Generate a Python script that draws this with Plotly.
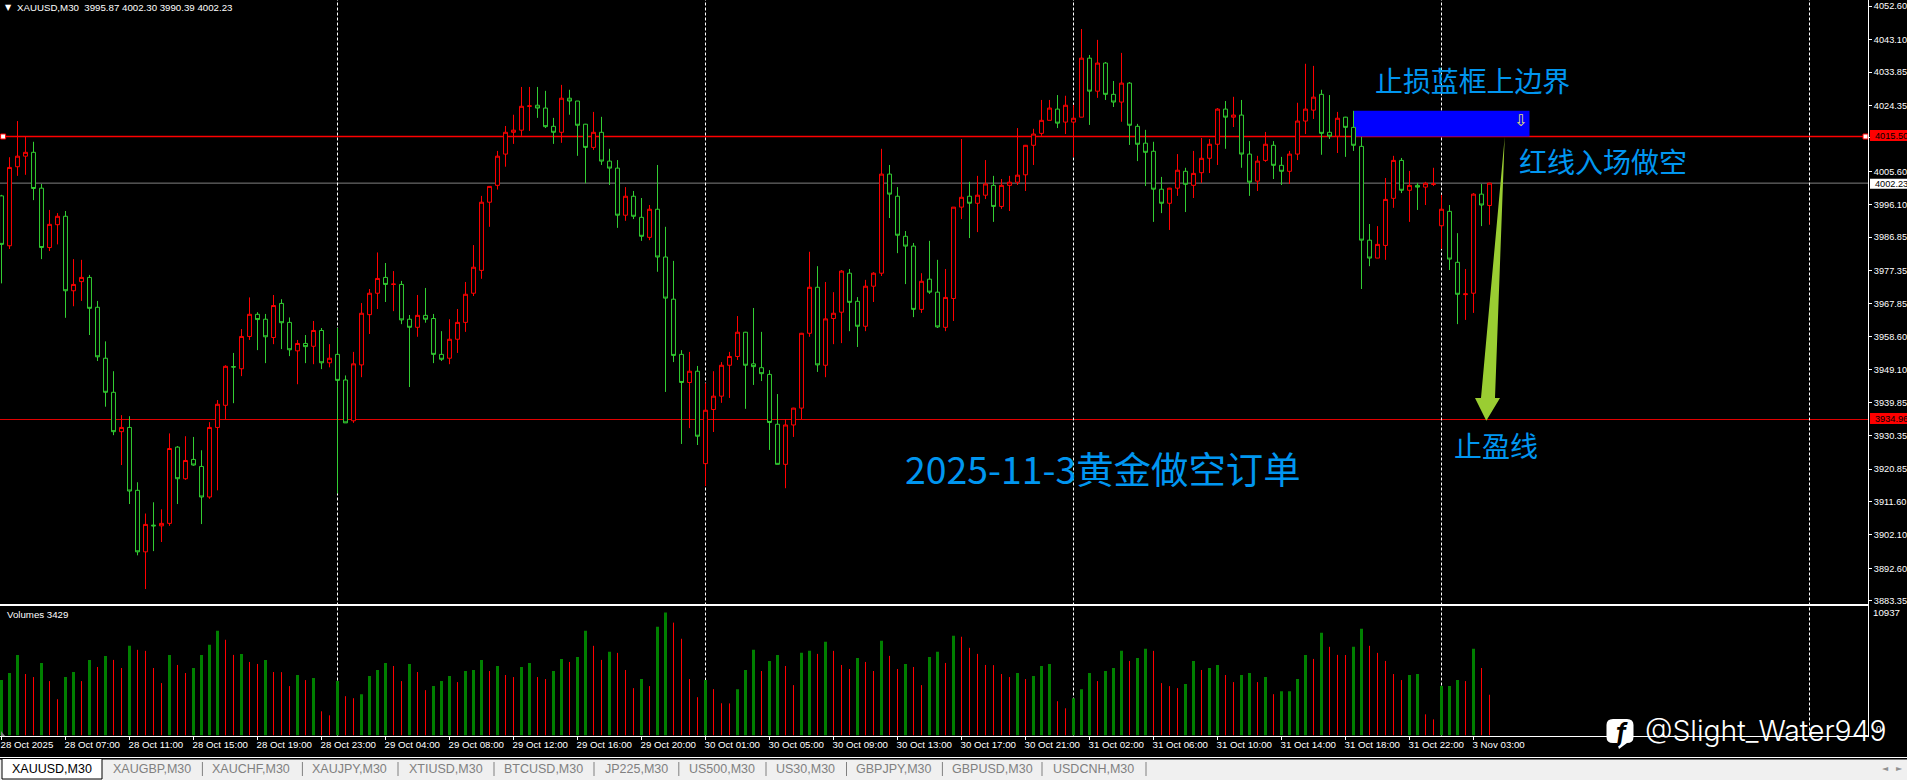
import plotly.graph_objects as go
from plotly.subplots import make_subplots

# XAUUSD M30 candles (red = up, green = down)
opens = [
    3998.6, 3984.4, 4006.9, 4009.9, 4011.0, 4000.8, 3983.9, 3990.4, 3992.8, 3971.6,
    3974.2, 3975.4, 3966.9, 3952.4, 3942.7, 3931.5, 3932.7, 3914.8, 3897.3, 3904.9,
    3904.7, 3905.4, 3927.1, 3918.1, 3923.6, 3921.6, 3912.9, 3932.7, 3939.0, 3950.0,
    3949.4, 3958.6, 3964.9, 3963.5, 3958.3, 3968.0, 3962.6, 3954.5, 3956.6, 3955.8,
    3960.3, 3951.1, 3953.5, 3946.2, 3934.6, 3950.5, 3964.8, 3970.9, 3975.4, 3973.4,
    3973.4, 3963.5, 3961.2, 3964.6, 3963.7, 3953.5, 3952.4, 3957.8, 3962.6, 3970.9,
    3977.4, 3996.8, 4001.6, 4010.5, 4016.7, 4017.3, 4024.1, 4024.4, 4023.6, 4018.4,
    4016.7, 4026.4, 4025.6, 4019.0, 4012.4, 4016.7, 4008.5, 4006.5, 3993.1, 3998.5,
    3992.5, 3986.8, 3994.8, 3981.2, 3969.2, 3953.5, 3945.5, 3948.7, 3922.4, 3937.8,
    3941.6, 3950.4, 3952.9, 3959.8, 3950.8, 3949.7, 3947.8, 3933.6, 3922.2, 3933.4,
    3938.2, 3959.5, 3972.6, 3950.4, 3963.7, 3965.5, 3976.6, 3968.6, 3961.5, 3972.9,
    3976.6, 4004.8, 3998.5, 3987.1, 3984.3, 3966.3, 3974.9, 3971.2, 3961.2, 3969.4,
    3995.4, 3998.5, 3996.5, 3998.8, 4001.6, 3995.6, 4001.6, 4002.5, 4004.6, 4013.0,
    4016.4, 4020.1, 4023.3, 4019.6, 4019.6, 4021.0, 4037.8, 4028.4, 4036.4, 4027.5,
    4025.3, 4030.7, 4018.4, 4013.6, 4011.3, 4000.5, 3996.5, 4000.8, 4005.6, 4001.6,
    4005.2, 4009.3, 4013.3, 4023.3, 4021.0, 4021.6, 4010.5, 4002.8, 4008.7, 4013.0,
    4007.3, 4005.6, 4010.5, 4019.9, 4023.0, 4027.5, 4016.7, 4015.6, 4021.0, 4018.1,
    4012.7, 3986.0, 3980.9, 3984.5, 3997.9, 4008.7, 4000.2, 4001.6, 4001.1, 4001.9,
    3990.1, 3994.2, 3979.7, 3970.5, 3970.9, 3999.1, 3995.87,
]
highs = [
    3998.9, 4009.6, 4019.9, 4015.5, 4014.0, 4002.0, 3994.6, 3993.7, 3994.3, 3980.6,
    3980.4, 3976.1, 3968.7, 3957.2, 3948.7, 3936.2, 3935.9, 3917.1, 3908.2, 3911.4,
    3909.4, 3931.0, 3927.4, 3930.2, 3930.0, 3926.2, 3934.2, 3940.5, 3950.4, 3953.9,
    3960.7, 3969.7, 3965.5, 3965.0, 3970.4, 3969.2, 3964.0, 3957.6, 3959.0, 3963.0,
    3961.0, 3956.4, 3961.0, 3947.5, 3954.2, 3968.1, 3972.1, 3982.5, 3979.5, 3977.2,
    3974.4, 3964.7, 3970.4, 3972.4, 3965.0, 3960.1, 3963.5, 3966.4, 3974.1, 3984.6,
    3998.6, 4001.4, 4011.4, 4018.5, 4021.7, 4029.6, 4029.6, 4029.6, 4028.5, 4020.8,
    4030.2, 4028.8, 4025.6, 4019.1, 4022.5, 4021.1, 4012.0, 4008.8, 4001.1, 4000.0,
    3998.0, 3996.0, 4007.4, 3989.8, 3980.1, 3954.7, 3954.2, 3950.2, 3945.3, 3948.7,
    3951.3, 3954.2, 3964.4, 3959.9, 3966.7, 3959.9, 3949.0, 3942.2, 3935.1, 3938.3,
    3959.6, 3982.7, 3978.6, 3974.1, 3971.2, 3977.5, 3977.8, 3969.8, 3974.7, 3976.9,
    4012.0, 4007.4, 4001.1, 3988.6, 3985.2, 3976.6, 3985.8, 3980.4, 3977.8, 3995.4,
    4014.8, 4002.6, 4004.3, 4008.8, 4004.3, 4003.4, 4004.3, 4017.9, 4013.1, 4017.7,
    4025.9, 4025.9, 4027.3, 4027.1, 4024.5, 4046.1, 4038.7, 4043.0, 4036.7, 4031.3,
    4039.3, 4031.0, 4019.1, 4017.4, 4014.0, 4004.0, 4000.9, 4010.5, 4006.6, 4011.4,
    4015.1, 4014.8, 4023.6, 4025.6, 4026.8, 4025.9, 4014.2, 4010.0, 4016.8, 4014.2,
    4009.7, 4011.4, 4025.1, 4036.2, 4035.6, 4028.8, 4027.3, 4022.5, 4021.1, 4022.8,
    4015.4, 3990.6, 3990.0, 4003.7, 4010.0, 4009.4, 4005.7, 4002.3, 4002.6, 4006.6,
    3998.9, 3996.0, 3988.0, 3977.8, 3999.4, 4002.0, 4002.30,
]
lows = [
    3973.7, 3983.5, 4004.3, 4004.6, 3997.4, 3980.6, 3982.9, 3984.8, 3963.9, 3967.2,
    3968.7, 3959.0, 3951.6, 3938.6, 3930.5, 3922.0, 3910.9, 3896.3, 3886.7, 3897.5,
    3900.1, 3904.7, 3910.9, 3917.8, 3921.8, 3905.2, 3912.4, 3914.8, 3935.0, 3939.6,
    3947.3, 3957.6, 3954.7, 3951.0, 3956.4, 3955.0, 3953.0, 3945.0, 3951.0, 3950.7,
    3949.3, 3949.8, 3913.9, 3934.0, 3934.0, 3947.0, 3959.3, 3966.4, 3968.4, 3965.8,
    3962.1, 3944.2, 3958.5, 3962.5, 3951.0, 3951.6, 3950.7, 3953.9, 3959.9, 3970.1,
    3975.0, 3989.8, 4000.4, 4006.9, 4013.4, 4015.7, 4017.1, 4020.8, 4017.9, 4013.4,
    4013.7, 4021.7, 4010.0, 4002.2, 4011.7, 4007.4, 4001.7, 3989.5, 3991.5, 3992.0,
    3985.8, 3986.0, 3977.0, 3942.8, 3951.3, 3928.0, 3932.5, 3927.7, 3916.0, 3931.4,
    3939.7, 3941.1, 3951.9, 3938.0, 3944.8, 3945.9, 3926.3, 3922.2, 3915.4, 3930.0,
    3935.1, 3958.5, 3948.5, 3947.0, 3956.4, 3956.7, 3960.1, 3955.6, 3960.1, 3968.4,
    3975.8, 3992.3, 3982.3, 3973.5, 3964.1, 3965.3, 3970.7, 3961.0, 3960.1, 3963.0,
    3992.0, 3986.6, 3988.3, 3997.7, 3991.2, 3994.9, 3994.3, 4001.7, 4000.0, 4007.4,
    4015.7, 4020.1, 4017.9, 4016.2, 4009.7, 4021.0, 4018.8, 4026.5, 4025.9, 4023.9,
    4019.7, 4013.1, 4008.5, 4001.4, 3991.2, 3993.7, 3988.9, 3998.6, 3994.0, 3998.0,
    4002.3, 4005.1, 4007.4, 4012.0, 4018.2, 4006.6, 3998.6, 4000.0, 4008.3, 4003.4,
    4001.7, 4002.0, 4008.8, 4016.2, 4020.5, 4010.3, 4014.8, 4010.8, 4009.7, 4011.4,
    3972.1, 3978.6, 3980.9, 3980.4, 3995.2, 3999.4, 3991.2, 3994.6, 3996.0, 4001.4,
    3983.5, 3977.5, 3962.1, 3963.3, 3965.3, 3990.0, 3990.39,
]
closes = [
    3984.8, 4006.7, 4009.9, 4011.0, 4000.7, 3983.9, 3990.5, 3992.8, 3971.6, 3973.4,
    3975.4, 3966.6, 3952.8, 3942.7, 3931.5, 3932.7, 3914.6, 3897.3, 3905.1, 3904.7,
    3905.4, 3926.7, 3918.1, 3923.3, 3922.0, 3912.9, 3932.7, 3939.3, 3950.1, 3949.9,
    3958.6, 3964.9, 3963.4, 3958.5, 3967.4, 3962.5, 3954.8, 3956.6, 3955.7, 3960.3,
    3951.1, 3952.4, 3946.1, 3934.0, 3950.8, 3965.2, 3970.9, 3975.1, 3973.4, 3973.5,
    3963.3, 3961.2, 3964.6, 3963.5, 3953.5, 3952.1, 3957.8, 3962.6, 3970.6, 3978.3,
    3996.8, 4001.3, 4009.9, 4016.7, 4017.3, 4024.1, 4024.2, 4023.6, 4018.3, 4016.7,
    4026.4, 4025.6, 4018.7, 4012.4, 4016.7, 4008.5, 4006.5, 3993.1, 3998.5, 3992.8,
    3987.1, 3994.8, 3981.2, 3969.5, 3953.2, 3945.5, 3948.7, 3930.2, 3937.6, 3941.6,
    3950.4, 3952.9, 3959.8, 3950.4, 3950.0, 3948.0, 3934.1, 3922.2, 3933.4, 3938.2,
    3959.5, 3972.6, 3950.5, 3963.6, 3965.2, 3977.2, 3968.3, 3961.5, 3972.9, 3976.6,
    4004.8, 3999.1, 3987.4, 3984.3, 3966.3, 3974.3, 3971.2, 3961.3, 3969.7, 3995.4,
    3998.2, 3996.5, 3998.8, 4002.0, 3995.6, 4001.6, 4002.5, 4004.5, 4013.0, 4016.2,
    4020.1, 4023.6, 4019.3, 4024.4, 4020.7, 4037.8, 4028.4, 4036.4, 4027.5, 4025.3,
    4030.7, 4018.7, 4013.3, 4011.0, 4000.5, 3996.5, 4000.8, 4005.9, 4001.9, 4005.0,
    4009.3, 4013.3, 4023.3, 4021.0, 4021.6, 4010.5, 4002.5, 4008.5, 4013.3, 4007.3,
    4005.6, 4010.5, 4019.9, 4023.3, 4026.7, 4016.4, 4015.6, 4020.7, 4018.1, 4013.0,
    3986.0, 3980.9, 3984.8, 3997.6, 4008.7, 4000.2, 4001.6, 4001.1, 4002.2, 4002.0,
    3994.8, 3980.6, 3970.6, 3970.7, 3999.1, 3996.0, 4002.23,
]
volumes = [
    4663, 5256, 6782, 5172, 4917, 6104, 4578, 3052, 4917, 5341,
    4578, 6359, 5765, 6698, 6359, 5680, 7545, 7206, 7122, 5680,
    4409, 6782, 5935, 5256, 5680, 6782, 7630, 8817, 8054, 6782,
    6867, 6189, 6019, 6359, 5341, 5330, 4154, 5087, 4663, 4832,
    2035, 1696, 4578, 3306, 3137, 3476, 5002, 5511, 6104, 5850,
    4578, 6019, 5341, 3815, 4154, 4578, 5002, 4493, 5426, 5511,
    6359, 5426, 5850, 5087, 4917, 5765, 6104, 4917, 4748, 5426,
    6443, 6189, 6613, 8817, 7545, 6359, 7037, 6952, 5511, 3985,
    4748, 4154, 9156, 10343, 9495, 8139, 4748, 3222, 4663, 3900,
    2713, 2700, 3900, 5511, 7206, 5426, 6274, 6782, 5850, 4239,
    6952, 7122, 6867, 7885, 7122, 5935, 5595, 6528, 6189, 5426,
    7969, 6698, 5595, 6019, 5765, 4239, 6613, 7037, 6104, 8393,
    8308, 7376, 6867, 5935, 5920, 5172, 4917, 5256, 4748, 5002,
    5850, 6019, 2883, 2289, 3137, 3900, 5256, 4578, 5426, 5680,
    7122, 6274, 6528, 7291, 7122, 4409, 4154, 3985, 4324, 6274,
    5511, 5680, 5935, 5087, 4493, 5087, 5256, 4493, 4917, 3476,
    3730, 3730, 4748, 6782, 6443, 8648, 7461, 6782, 6770, 7461,
    8987, 7545, 6952, 6274, 5172, 4663, 5087, 5172, 1780, 1356,
    4154, 4154, 4663, 4578, 7291, 5680, 3429,
]
volume_max = 10937

time_labels = [
    "28 Oct 2025", "28 Oct 07:00", "28 Oct 11:00", "28 Oct 15:00", "28 Oct 19:00", "28 Oct 23:00",
    "29 Oct 04:00", "29 Oct 08:00", "29 Oct 12:00", "29 Oct 16:00", "29 Oct 20:00", "30 Oct 01:00",
    "30 Oct 05:00", "30 Oct 09:00", "30 Oct 13:00", "30 Oct 17:00", "30 Oct 21:00", "31 Oct 02:00",
    "31 Oct 06:00", "31 Oct 10:00", "31 Oct 14:00", "31 Oct 18:00", "31 Oct 22:00", "3 Nov 03:00",
]
price_ticks = [
    4052.60, 4043.10, 4033.85, 4024.35, 4015.10, 4005.60, 3996.10, 3986.85, 3977.35, 3967.85,
    3958.60, 3949.10, 3939.85, 3930.35, 3920.85, 3911.60, 3902.10, 3892.60, 3883.35,
]
day_breaks = [42, 88, 134, 180, 226]  # candle index of the dotted period separators

entry_price = 4015.50
target_price = 3934.96
last_price = 4002.23
stop_price = 4022.8
stop_box_span = [169, 191]
entry_handles = [0.2, 233.0]

tab_names = ["XAUUSD,M30", "XAUGBP,M30", "XAUCHF,M30", "XAUJPY,M30", "XTIUSD,M30", "BTCUSD,M30",
             "JP225,M30", "US500,M30", "US30,M30", "GBPJPY,M30", "GBPUSD,M30", "USDCNH,M30"]
tab_centers = [52, 152, 251, 349, 445.5, 543.7, 636, 722, 805.7, 894, 992, 1093.7]
tab_seps = [202.4, 302.4, 398, 494, 594, 678.8, 766, 846.5, 942.4, 1042, 1146]

WIDTH, HEIGHT = 1907, 780
AXIS_X = 1868
MAIN_BOTTOM = 603.5
VOL_TOP = 605.5
VOL_BOTTOM = 735.5
PRICE_TOP = 4054.35
PRICE_PER_PX = 0.2846
UI_FONT = "Liberation Sans"
UI_SIZE = 9.7
PRICE_SIZE = 9.2
CJK_FONT = "Noto Sans CJK SC"
NOTE_BLUE = "#0096f0"


def px(x):
    return x / WIDTH


def py(y):
    return 1 - y / HEIGHT


def paper_path(points):
    return "M " + " L ".join(f"{px(x):.5f},{py(y):.5f}" for x, y in points) + " Z"


def label(fig, text, x, y, size=UI_SIZE, color="white", family=UI_FONT, anchor="left", **kwargs):
    fig.add_annotation(
        text=text, xref="paper", yref="paper", x=px(x), y=py(y), xanchor=anchor, yanchor="middle",
        showarrow=False, font=dict(family=family, size=size, color=color), borderpad=0, **kwargs,
    )


indices = list(range(len(opens)))

fig = make_subplots(rows=2, cols=1, shared_xaxes=True, vertical_spacing=0.01)

fig.add_trace(
    go.Candlestick(
        x=indices, open=opens, high=highs, low=lows, close=closes, whiskerwidth=0,
        increasing=dict(line=dict(color="#ff0000", width=1), fillcolor="#000000"),
        decreasing=dict(line=dict(color="#32cd32", width=1), fillcolor="#000000"),
        hoverinfo="skip",
    ),
    row=1, col=1,
)

# MT4 colours a volume bar green when it rises on the previous one; the red ones are 1px
rising = [i == 0 or volumes[i] >= volumes[i - 1] for i in indices]
fig.add_trace(
    go.Bar(x=[i for i in indices if rising[i]], y=[volumes[i] for i in indices if rising[i]],
           width=0.375, marker=dict(color="#008000", line=dict(width=0))),
    row=2, col=1,
)
falling_x, falling_y = [], []
for i in indices:
    if not rising[i]:
        falling_x += [i, i, None]
        falling_y += [0, volumes[i], None]
fig.add_trace(
    go.Scatter(x=falling_x, y=falling_y, mode="lines", line=dict(color="#ff0000", width=1), hoverinfo="skip"),
    row=2, col=1,
)

# Stop box and the order lines, all behind the candles
fig.add_shape(type="rect", x0=stop_box_span[0], x1=stop_box_span[1], y0=entry_price, y1=stop_price,
              fillcolor="#0000ff", line=dict(width=0), layer="below", row=1, col=1)
fig.add_hline(y=entry_price, line=dict(color="#ff0000", width=1.4), layer="below", row=1, col=1)
fig.add_hline(y=target_price, line=dict(color="#e00000", width=1), layer="below", row=1, col=1)
fig.add_hline(y=last_price, line=dict(color="#808080", width=1), layer="below", row=1, col=1)

for day in day_breaks:
    fig.add_shape(type="line", xref="x", yref="paper", x0=day, x1=day, y0=py(VOL_BOTTOM), y1=1,
                  line=dict(color="white", width=1, dash="3px,2px"), layer="below")

fig.add_trace(
    go.Scatter(x=entry_handles, y=[entry_price, entry_price], mode="markers", hoverinfo="skip",
               marker=dict(symbol="square", size=5, color="white", line=dict(color="#ff0000", width=1))),
    row=1, col=1,
)

# Hand-drawn green arrow
fig.add_shape(
    type="path", xref="paper", yref="paper", fillcolor="#9acd32", line=dict(width=0),
    path=paper_path([(1504.7, 137), (1495, 398), (1500, 398), (1486.3, 420.7), (1475, 398), (1481, 398)]),
)

# Tab strip along the bottom
fig.add_shape(type="rect", xref="paper", yref="paper", x0=0, x1=1, y0=py(HEIGHT), y1=py(759.5),
              fillcolor="#f0f0f0", line=dict(width=0))
fig.add_shape(type="line", xref="paper", yref="paper", x0=0, x1=1, y0=py(757.5), y1=py(757.5),
              line=dict(color="white", width=1))
fig.add_shape(type="rect", xref="paper", yref="paper", x0=px(2), x1=px(102), y0=py(779), y1=py(758.5),
              fillcolor="white", line=dict(color="black", width=1))
for sep in tab_seps:
    fig.add_shape(type="line", xref="paper", yref="paper", x0=px(sep), x1=px(sep), y0=py(776), y1=py(762),
                  line=dict(color="#808080", width=1))
for i, name in enumerate(tab_names):
    label(fig, name, tab_centers[i], 769, size=12.5, color="black" if i == 0 else "#808080", anchor="center")
label(fig, "◄", 1885, 768, size=8, color="#909090", family="DejaVu Sans", anchor="center")
label(fig, "►", 1899, 768, size=8, color="#909090", family="DejaVu Sans", anchor="center")

# Small marker at the chart shift position
fig.add_shape(type="path", xref="paper", yref="paper", fillcolor="#808080", line=dict(width=0),
              path=paper_path([(1, 731), (1, 736), (5, 736)]))

# Chart texts
label(fig, "▼", 3.5, 7.5, size=8, family="DejaVu Sans")
label(fig, f"XAUUSD,M30  {opens[-1]:.2f} {highs[-1]:.2f} {lows[-1]:.2f} {closes[-1]:.2f}", 15.5, 7.5)
label(fig, f"Volumes {volumes[-1]}", 5.5, 614.5)
label(fig, str(volume_max), 1872, 612.5)
label(fig, "0", 1875, 728)
label(fig, "止损蓝框上边界", 1374, 80, size=27.9, color=NOTE_BLUE, family=CJK_FONT)
label(fig, "红线入场做空", 1518, 161, size=28, color=NOTE_BLUE, family=CJK_FONT)
label(fig, "止盈线", 1453, 445, size=28, color=NOTE_BLUE, family=CJK_FONT)
label(fig, "2025-11-3黄金做空订单", 904, 468, size=37.4, color=NOTE_BLUE, family=CJK_FONT)
label(fig, "⇩", 1520, 120.5, size=16, color="#e8e070", family="DejaVu Sans", anchor="center")

# Price flags on the right axis
flags = [(entry_price, "#ff0000", 130, 141), (target_price, "#ff0000", 413, 424), (last_price, "#ffffff", 178.7, 188.7)]
for price, bg, flag_top, flag_bottom in flags:
    fig.add_shape(type="rect", xref="paper", yref="paper", x0=px(1870), x1=1, y0=py(flag_bottom), y1=py(flag_top),
                  fillcolor=bg, line=dict(width=0))
    label(fig, f"{price:.2f}", 1873.5, (flag_top + flag_bottom) / 2, size=PRICE_SIZE, color="black")

# Watermark
fig.add_shape(
    type="path", xref="paper", yref="paper", fillcolor="white", line=dict(width=0),
    path=(
        f"M {px(1613):.5f},{py(719):.5f} L {px(1627):.5f},{py(719):.5f} Q {px(1633.5):.5f},{py(719):.5f} {px(1633.5):.5f},{py(725):.5f} "
        f"L {px(1633.5):.5f},{py(737):.5f} Q {px(1633.5):.5f},{py(743):.5f} {px(1627):.5f},{py(743):.5f} "
        f"L {px(1619):.5f},{py(749):.5f} L {px(1617):.5f},{py(743):.5f} L {px(1613):.5f},{py(743):.5f} "
        f"Q {px(1606.5):.5f},{py(743):.5f} {px(1606.5):.5f},{py(737):.5f} L {px(1606.5):.5f},{py(725):.5f} "
        f"Q {px(1606.5):.5f},{py(719):.5f} {px(1613):.5f},{py(719):.5f} Z"
    ),
)
label(fig, "<b><i>f</i></b>", 1620, 732, size=25, color="black", family="Inter", anchor="center")
fig.add_annotation(
    text="@Slight_Water949", xref="paper", yref="paper", x=px(1643), y=py(731), xanchor="left", yanchor="middle",
    showarrow=False, font=dict(family="Inter", size=28.3, color="white", weight=300),
)

fig.update_xaxes(
    range=[-0.1875, 233.3125], domain=[0, px(AXIS_X)], showgrid=False, zeroline=False,
    showline=True, linecolor="white", linewidth=1, rangeslider_visible=False,
)
fig.update_xaxes(showticklabels=False, ticks="", row=1, col=1)
fig.update_xaxes(
    tickmode="array", tickvals=[8 * i for i in range(len(time_labels))], ticktext=time_labels,
    ticks="outside", ticklen=3, tickcolor="white", ticklabelposition="outside right", tickangle=0,
    ticklabelshift=-2, tickfont=dict(family=UI_FONT, size=UI_SIZE, color="white"), mirror=True, row=2, col=1,
)
fig.update_yaxes(
    side="right", showgrid=False, zeroline=False, showline=True, linecolor="white", linewidth=1, mirror=True,
)
fig.update_yaxes(
    range=[PRICE_TOP - MAIN_BOTTOM * PRICE_PER_PX, PRICE_TOP], domain=[py(MAIN_BOTTOM), 1],
    tickmode="array", tickvals=price_ticks, ticktext=[f"{t:.2f}" for t in price_ticks],
    ticks="outside", ticklen=3, tickcolor="white", ticklabelstandoff=0,
    tickfont=dict(family=UI_FONT, size=PRICE_SIZE, color="white"), row=1, col=1,
)
fig.update_yaxes(range=[0, volume_max], domain=[py(VOL_BOTTOM), py(VOL_TOP)], showticklabels=False, ticks="", row=2, col=1)

fig.update_layout(
    width=WIDTH, height=HEIGHT, margin=dict(l=0, r=0, t=0, b=0, autoexpand=False), autosize=False,
    paper_bgcolor="black", plot_bgcolor="black", showlegend=False, barmode="overlay", hovermode=False,
)

fig.write_html(
    "out.html", config={"displayModeBar": False},
    post_script="document.body.style.margin='0';document.body.style.overflow='hidden';",
)
